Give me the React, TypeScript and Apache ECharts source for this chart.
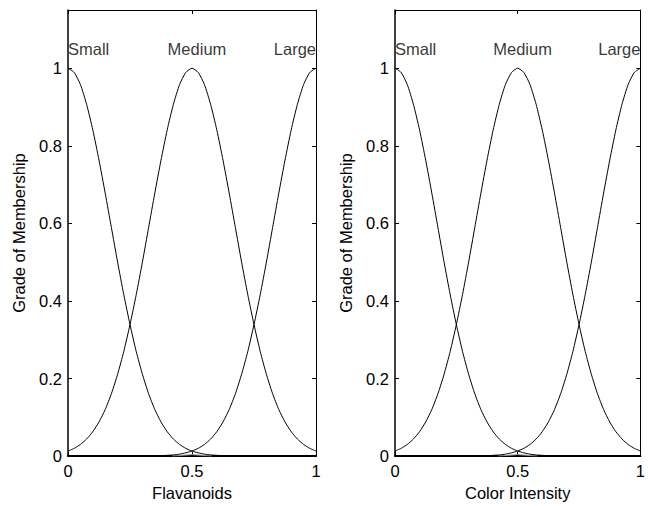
import React, { useEffect, useRef } from "react";
import * as echarts from "echarts";

// x positions (universe of discourse, normalised 0..1)
const xs = [
  0, 0.025, 0.05, 0.075, 0.1, 0.125, 0.15, 0.175, 0.2, 0.225, 0.25, 0.275, 0.3, 0.325, 0.35, 0.375, 0.4,
  0.425, 0.45, 0.475, 0.5, 0.525, 0.55, 0.575, 0.6, 0.625, 0.65, 0.675, 0.7, 0.725, 0.75, 0.775, 0.8,
  0.825, 0.85, 0.875, 0.9, 0.925, 0.95, 0.975, 1,
];

// membership grades
const smallMf = [
  1, 0.989, 0.958, 0.907, 0.841, 0.763, 0.678, 0.589, 0.5, 0.416, 0.339, 0.27, 0.211, 0.161, 0.12, 0.088,
  0.063, 0.044, 0.03, 0.02, 0.013, 0.0085, 0.005, 0.003, 0.002, 0.001, 0.0006, 0.0003, 0.0002, 0.0001, 0,
  0, 0, 0, 0, 0, 0, 0, 0, 0, 0,
];
const mediumMf = [
  0.013, 0.02, 0.03, 0.044, 0.063, 0.088, 0.12, 0.161, 0.211, 0.27, 0.339, 0.416, 0.5, 0.589, 0.678, 0.763,
  0.841, 0.907, 0.958, 0.989, 1, 0.989, 0.958, 0.907, 0.841, 0.763, 0.678, 0.589, 0.5, 0.416, 0.339, 0.27,
  0.211, 0.161, 0.12, 0.088, 0.063, 0.044, 0.03, 0.02, 0.013,
];
const largeMf = [
  0, 0, 0, 0, 0, 0, 0, 0, 0, 0, 0, 0.0001, 0.0002, 0.0003, 0.0006, 0.001, 0.002, 0.003, 0.005, 0.0085,
  0.013, 0.02, 0.03, 0.044, 0.063, 0.088, 0.12, 0.161, 0.211, 0.27, 0.339, 0.416, 0.5, 0.589, 0.678, 0.763,
  0.841, 0.907, 0.958, 0.989, 1,
];

// small faint trace near the bottom around x = 0.5
const traceX = [0.42, 0.5, 0.58];
const traceY = [0, 0.004, 0];

const mfNames = ["Small", "Medium", "Large"];
const labelX = [0, 0.52, 1];
const labelY = [1.05, 1.05, 1.05];
const labelAlign = ["left", "center", "right"];

const xTicks = ["0", "0.5", "1"];
const panelTitles = ["Flavanoids", "Color Intensity"];
const yTitle = "Grade of Membership";

const FONT = "'Liberation Sans', Arial, Helvetica, sans-serif";
const FS = 16.5;

export default function App() {
  const ref = useRef<HTMLDivElement>(null);
  useEffect(() => {
    if (!ref.current) return;
    const chart = echarts.init(ref.current, null, { renderer: "svg" });
    const grids = [
      { left: 68, top: 10, width: 248, height: 451 },
      { left: 395, top: 10, width: 249, height: 451 },
    ];
    const pairs = (ys: number[]) => xs.map((x, i) => [x, ys[i]]);
    const xAxes: any[] = [];
    const yAxes: any[] = [];
    const series: any[] = [];
    grids.forEach((g, gi) => {
      xAxes.push({
        type: "value",
        gridIndex: gi,
        position: "bottom",
        min: 0,
        max: 1,
        interval: 0.5,
        name: panelTitles[gi],
        nameLocation: "middle",
        nameGap: 27,
        nameTextStyle: { color: "#000", fontFamily: FONT, fontSize: FS },
        axisLine: { show: true, onZero: false, lineStyle: { color: "#000", width: 2 } },
        axisTick: { show: true, inside: true, length: 4, lineStyle: { color: "#000" } },
        axisLabel: {
          color: "#000",
          fontFamily: FONT,
          fontSize: FS,
          margin: 6,
          formatter: (v: number) => xTicks[Math.round(v * 2)] ?? "",
        },
        splitLine: { show: false },
      });
      xAxes.push({
        type: "value",
        gridIndex: gi,
        position: "top",
        min: 0,
        max: 1,
        interval: 0.5,
        axisLine: { show: true, onZero: false, lineStyle: { color: "#000", width: 1 } },
        axisTick: { show: true, inside: true, length: 4, lineStyle: { color: "#000" } },
        axisLabel: { show: false },
        splitLine: { show: false },
      });
      yAxes.push({
        type: "value",
        gridIndex: gi,
        position: "left",
        min: 0,
        max: 1.15,
        interval: 0.2,
        name: yTitle,
        nameLocation: "middle",
        nameGap: 41,
        nameTextStyle: { color: "#000", fontFamily: FONT, fontSize: FS },
        axisLine: { show: true, onZero: false, lineStyle: { color: "#000", width: 1.5 } },
        axisTick: { show: true, inside: true, length: 4, lineStyle: { color: "#000" } },
        axisLabel: {
          color: "#000",
          fontFamily: FONT,
          fontSize: FS,
          margin: 6,
          showMaxLabel: false,
          formatter: (v: number) => (v > 1.01 ? "" : String(Math.round(v * 10) / 10)),
        },
        splitLine: { show: false },
      });
      yAxes.push({
        type: "value",
        gridIndex: gi,
        position: "right",
        min: 0,
        max: 1.15,
        interval: 0.2,
        axisLine: { show: true, onZero: false, lineStyle: { color: "#000", width: 1 } },
        axisTick: { show: true, inside: true, length: 4, lineStyle: { color: "#000" } },
        axisLabel: { show: false },
        splitLine: { show: false },
      });
      const xi = gi * 2;
      const yi = gi * 2;
      [smallMf, mediumMf, largeMf].forEach((ys, k) => {
        series.push({
          type: "line",
          name: mfNames[k] + gi,
          xAxisIndex: xi,
          yAxisIndex: yi,
          data: pairs(ys),
          showSymbol: false,
          symbol: "none",
          smooth: 0.2,
          lineStyle: { color: "#000", width: 1 },
          clip: true,
        });
      });
      series.push({
        type: "line",
        xAxisIndex: xi,
        yAxisIndex: yi,
        data: traceX.map((x, i) => [x, traceY[i]]),
        symbol: "none",
        lineStyle: { color: "#999", width: 1 },
      });
      series.push({
        type: "scatter",
        xAxisIndex: xi,
        yAxisIndex: yi,
        symbolSize: 0,
        clip: false,
        itemStyle: { color: "#000" },
        data: mfNames.map((n, i) => ({
          name: n,
          value: [labelX[i], labelY[i]],
          label: { align: labelAlign[i] },
        })),
        label: {
          show: true,
          position: "inside",
          formatter: "{b}",
          color: "#000",
          textBorderWidth: 0,
          textBorderColor: "transparent",
          fontFamily: FONT,
          fontSize: FS,
          verticalAlign: "middle",
        },
      });
    });
    chart.setOption({
      animation: false,
      backgroundColor: "#fff",
      grid: grids,
      xAxis: xAxes,
      yAxis: yAxes,
      series,
    });
    return () => chart.dispose();
  }, []);
  return (
    <div
      ref={ref}
      style={{ position: "fixed", left: 0, top: 0, width: 648, height: 506, background: "#fff" }}
    />
  );
}
